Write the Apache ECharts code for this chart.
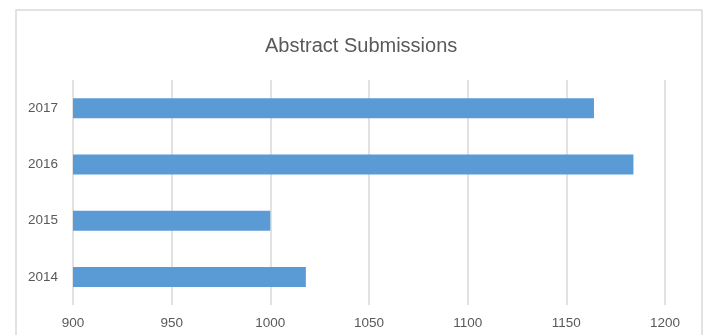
<!DOCTYPE html>
<html>
<head>
<meta charset="utf-8">
<script src="https://cdn.jsdelivr.net/npm/echarts@6/dist/echarts.min.js"></script>
<style>
  html, body { margin: 0; padding: 0; background: #fff; }
  #chart { width: 706px; height: 335px; }
</style>
</head>
<body>
<div id="chart"></div>
<script>
// data
var years = ["2014", "2015", "2016", "2017"];
var submissions = [1018, 1000, 1184, 1164];
var xTicks = { min: 900, max: 1200, step: 50 };

var textColor = "#595959";
var gridColor = "#d9d9d9";

var chart = echarts.init(document.getElementById("chart"));
var option = {
  backgroundColor: "#ffffff",
  animation: false,
  title: {
    text: "Abstract Submissions",
    left: 260,
    top: 31,
    textStyle: {
      fontFamily: "Liberation Sans",
      fontSize: 20,
      fontWeight: "normal",
      color: textColor
    }
  },
  // outer frame
  graphic: [
    {
      type: "rect",
      shape: { x: 16, y: 10, width: 686, height: 340 },
      style: { fill: "none", stroke: gridColor, lineWidth: 1.5 },
      silent: true
    }
  ],
  grid: {
    left: 73,
    right: 41,
    top: 80,
    bottom: 30
  },
  xAxis: {
    type: "value",
    min: xTicks.min,
    max: xTicks.max,
    interval: xTicks.step,
    axisLine: { show: false },
    axisTick: { show: false },
    axisLabel: {
      color: textColor,
      fontFamily: "Liberation Sans",
      fontSize: 13.5,
      margin: 11,
      formatter: function (v) { return String(v); }
    },
    splitLine: {
      show: true,
      lineStyle: { color: gridColor, width: 1.5 }
    }
  },
  yAxis: {
    type: "category",
    data: years,
    axisLine: { show: false },
    axisTick: { show: false },
    axisLabel: {
      color: textColor,
      fontFamily: "Liberation Sans",
      fontSize: 13.5,
      margin: 15
    }
  },
  series: [
    {
      type: "bar",
      data: submissions,
      barWidth: 20,
      itemStyle: { color: "#5b9bd5" }
    }
  ]
};
chart.setOption(option);
</script>
</body>
</html>
